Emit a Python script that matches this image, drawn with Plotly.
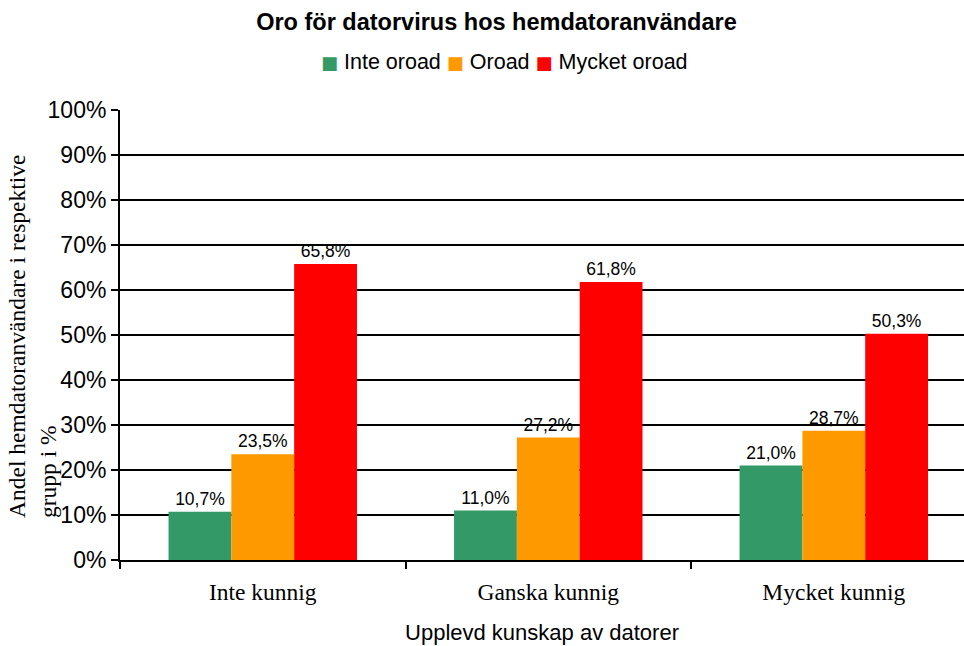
import plotly.graph_objects as go

categories = ["Inte kunnig", "Ganska kunnig", "Mycket kunnig"]
series_names = ["Inte oroad", "Oroad", "Mycket oroad"]
inte_oroad = [10.7, 11.0, 21.0]
oroad = [23.5, 27.2, 28.7]
mycket_oroad = [65.8, 61.8, 50.3]
colors = ["#339966", "#FF9900", "#FF0000"]
y_ticks = list(range(0, 101, 10))
y_ticktext = [f"{v}%" for v in y_ticks]

fig = go.Figure()
for name, vals, col in zip(series_names, [inte_oroad, oroad, mycket_oroad], colors):
    fig.add_trace(go.Bar(
        x=categories, y=vals, name=name, marker=dict(color=col, line=dict(width=0)),
        texttemplate="%{y:.1f}%", textposition="outside",
        textfont=dict(family="Liberation Sans, Arial", size=17.5, color="black"),
        cliponaxis=False, showlegend=False,
    ))

legend_text = "&nbsp;".join(
    f"<span style='color:{c};font-family:DejaVu Sans;font-size:18px'>■</span>&nbsp;{n}"
    for n, c in zip(series_names, colors)
)

fig.update_layout(
    width=964, height=646,
    margin=dict(l=120, r=0, t=110, b=86, autoexpand=False),
    paper_bgcolor="white", plot_bgcolor="white",
    separators=", ",
    barmode="group", bargap=0.34, bargroupgap=0,
    title=dict(text="<b>Oro för datorvirus hos hemdatoranvändare</b>",
               font=dict(family="Liberation Sans, Arial", size=23.5, color="black"),
               x=0.515, xref="container", xanchor="center", y=0.966, yref="container", yanchor="middle"),
    showlegend=False,
)
fig.add_annotation(
    text=legend_text, xref="paper", yref="paper",
    x=(504 - 120) / 844, y=(560 - 62) / 450, xanchor="center", yanchor="middle",
    showarrow=False,
    font=dict(family="Liberation Sans, Arial", size=21.5, color="black"),
)
fig.update_xaxes(
    range=[-0.5, 2.456], showline=True, linecolor="black", linewidth=2,
    ticks="outside", tickson="boundaries", ticklen=7, tickwidth=2, tickcolor="black",
    tickfont=dict(family="Liberation Serif, Times New Roman", size=23.5, color="black"),
    ticklabelstandoff=10, automargin=False,
    title=dict(text="Upplevd kunskap av datorer", standoff=20,
               font=dict(family="Liberation Sans, Arial", size=22, color="black")),
    showgrid=False, zeroline=False,
)
fig.update_yaxes(
    range=[0, 100], tickvals=y_ticks, ticktext=y_ticktext,
    showline=True, linecolor="black", linewidth=2, automargin=False,
    ticks="outside", ticklen=7, tickwidth=2, tickcolor="black",
    tickfont=dict(family="Liberation Sans, Arial", size=23, color="black"),
    showgrid=True, gridcolor="black", gridwidth=1.6, zeroline=False,
)
fig.add_annotation(
    text="Andel hemdatoranvändare i respektive<br>grupp i %",
    xref="paper", yref="paper", x=(32 - 120) / 844, y=(560 - 337) / 450,
    xanchor="center", yanchor="middle",
    textangle=-90, align="left", showarrow=False,
    font=dict(family="Liberation Serif, Times New Roman", size=23.5, color="black"),
)
fig.write_html("out.html", config={"displayModeBar": False},
               post_script="document.body.style.margin='0';")
